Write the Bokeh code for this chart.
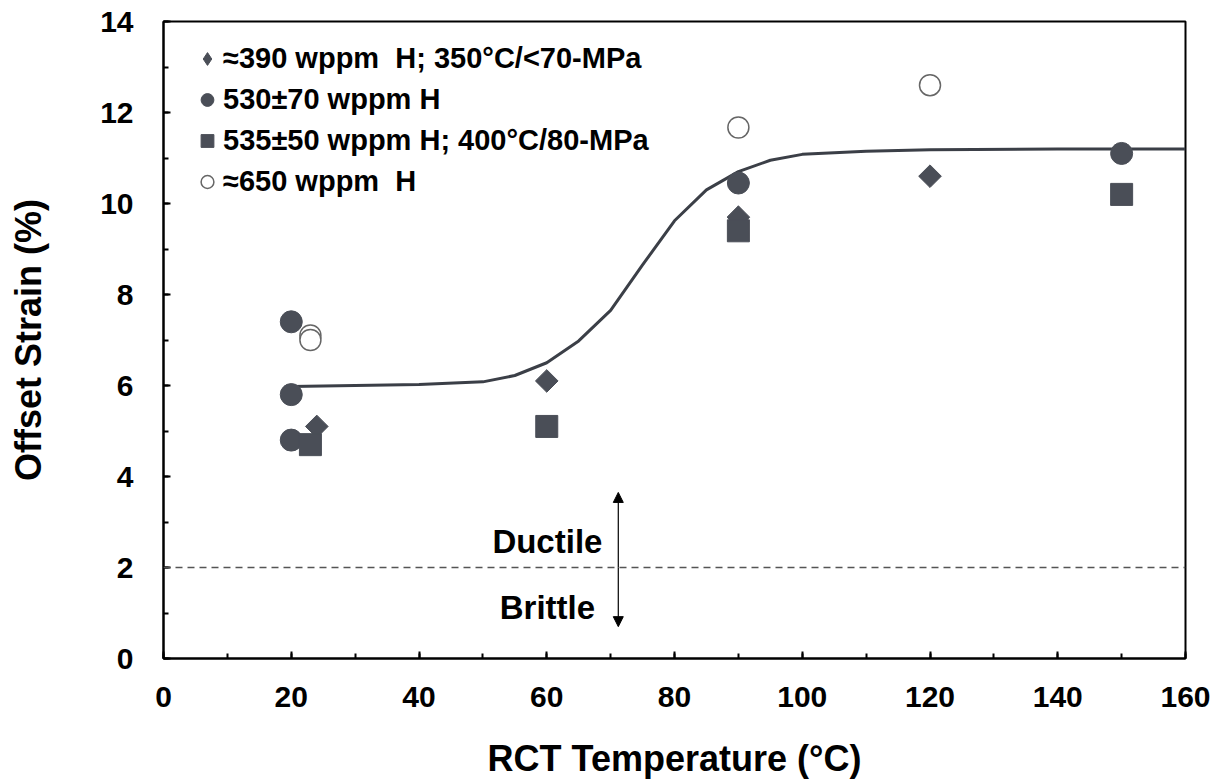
import math
from bokeh.plotting import figure
from bokeh.models import Range1d, SingleIntervalTicker, Span, Arrow, NormalHead, Legend, LegendItem
from bokeh.core.properties import value
from bokeh.embed import file_html
from bokeh.resources import INLINE

# ---- data ----
s390_x = [24, 60, 90, 120]
s390_y = [5.1, 6.1, 9.7, 10.6]
s530_x = [20, 20, 20, 90, 150]
s530_y = [7.4, 5.8, 4.8, 10.45, 11.1]
s535_x = [23, 60, 90, 150]
s535_y = [4.7, 5.1, 9.4, 10.2]
s650_x = [23, 23, 90, 120]
s650_y = [7.1, 7.0, 11.67, 12.6]

fit_x = [20, 30, 40, 50, 55, 60, 65, 70, 75, 80, 85, 90, 95, 100, 110, 120, 140, 160]
fit_y = [5.98, 6.0, 6.02, 6.08, 6.22, 6.5, 6.98, 7.65, 8.65, 9.62, 10.3, 10.7, 10.95, 11.08, 11.15, 11.18, 11.2, 11.2]

labels = ["\u2248390 wppm  H; 350\u00b0C/<70-MPa", "530\u00b170 wppm H",
          "535\u00b150 wppm H; 400\u00b0C/80-MPa", "\u2248650 wppm  H"]

threshold = 2
arrow_x = 71.2
arrow_up_end = 3.65
arrow_down_end = 0.7
note_x = [60.1, 60.1]
note_y = [2.57, 1.12]
note_text = ["Ductile", "Brittle"]

FONT = "Liberation Sans"
MK = "#4a4e57"
LN = "#3b3f47"

p = figure(width=1222, height=784, frame_width=1022, frame_height=637,
           min_border_left=163, min_border_right=37, min_border_top=21, min_border_bottom=126,
           x_range=Range1d(0, 160), y_range=Range1d(0, 14),
           output_backend="svg", toolbar_location=None)
p.grid.visible = False
p.outline_line_color = "black"
p.outline_line_width = 2
p.background_fill_color = "white"
p.border_fill_color = "white"

p.xaxis.ticker = SingleIntervalTicker(interval=20, num_minor_ticks=2)
p.yaxis.ticker = SingleIntervalTicker(interval=2, num_minor_ticks=2)
for ax in (p.xaxis[0], p.yaxis[0]):
    ax.axis_line_width = 2
    ax.axis_line_color = "black"
    ax.major_tick_in = 7
    ax.major_tick_out = 0
    ax.minor_tick_in = 5
    ax.minor_tick_out = 0
    ax.major_tick_line_width = 2
    ax.minor_tick_line_width = 2
    ax.major_label_text_font = FONT
    ax.major_label_text_font_style = "bold"
    ax.major_label_text_font_size = "30px"
    ax.major_label_text_color = "black"
    ax.axis_label_text_font = FONT
    ax.axis_label_text_font_style = "bold"
    ax.axis_label_text_font_size = "36px"
    ax.axis_label_text_color = "black"

p.xaxis.axis_label = "RCT Temperature (\u00b0C)"
p.yaxis.axis_label = "Offset Strain (%)"
p.xaxis.major_label_standoff = 28
p.xaxis.axis_label_standoff = 28
p.yaxis.major_label_standoff = 30
p.yaxis.axis_label_standoff = 48

# threshold line
p.add_layout(Span(location=threshold, dimension="width", line_color="#555555",
                  line_width=1.5, line_dash="7 5"))

# fit curve
p.line(fit_x, fit_y, line_color=LN, line_width=3)

# legend swatch for the rotated-square series (hidden beneath the real marks)
r1_key = p.scatter(s390_x, s390_y, marker="diamond", size=13, fill_color=MK, line_color=MK)
# data series
r1 = p.scatter(s390_x, s390_y, marker="square", angle=math.pi / 4, size=16,
               fill_color=MK, line_color=MK)
r2 = p.scatter(s530_x, s530_y, marker="circle", size=22,
               fill_color=MK, line_color=MK)
r3 = p.scatter(s535_x, s535_y, marker="square", size=22,
               fill_color=MK, line_color=MK)
r4 = p.scatter(s650_x, s650_y, marker="circle", size=21,
               fill_color="white", line_color="#666666", line_width=1.5)

# arrows
p.add_layout(Arrow(end=NormalHead(size=10, fill_color="black", line_color="black"),
                   x_start=arrow_x, y_start=threshold, x_end=arrow_x, y_end=arrow_up_end,
                   line_color="black", line_width=1.2))
p.add_layout(Arrow(end=NormalHead(size=10, fill_color="black", line_color="black"),
                   x_start=arrow_x, y_start=threshold, x_end=arrow_x, y_end=arrow_down_end,
                   line_color="black", line_width=1.2))

p.text(x=note_x, y=note_y, text=note_text, text_font=value(FONT), text_font_style="bold",
       text_font_size="33px", text_align="center", text_baseline="middle", text_color="black")

lg = Legend(items=[LegendItem(label=labels[0], renderers=[r1_key]),
                   LegendItem(label=labels[1], renderers=[r2]),
                   LegendItem(label=labels[2], renderers=[r3]),
                   LegendItem(label=labels[3], renderers=[r4])])
lg.location = (28, 459)
lg.border_line_color = None
lg.background_fill_alpha = 0
lg.margin = 0
lg.padding = 0
lg.spacing = 6
lg.glyph_width = 32
lg.glyph_height = 35
lg.label_standoff = 0
lg.label_text_font = FONT
lg.label_text_font_style = "bold"
lg.label_text_font_size = "29px"
lg.label_text_color = "black"
lg.label_height = 35
lg.label_text_baseline = "middle"
p.add_layout(lg, "center")

open("out.html", "w").write(file_html(p, INLINE))
